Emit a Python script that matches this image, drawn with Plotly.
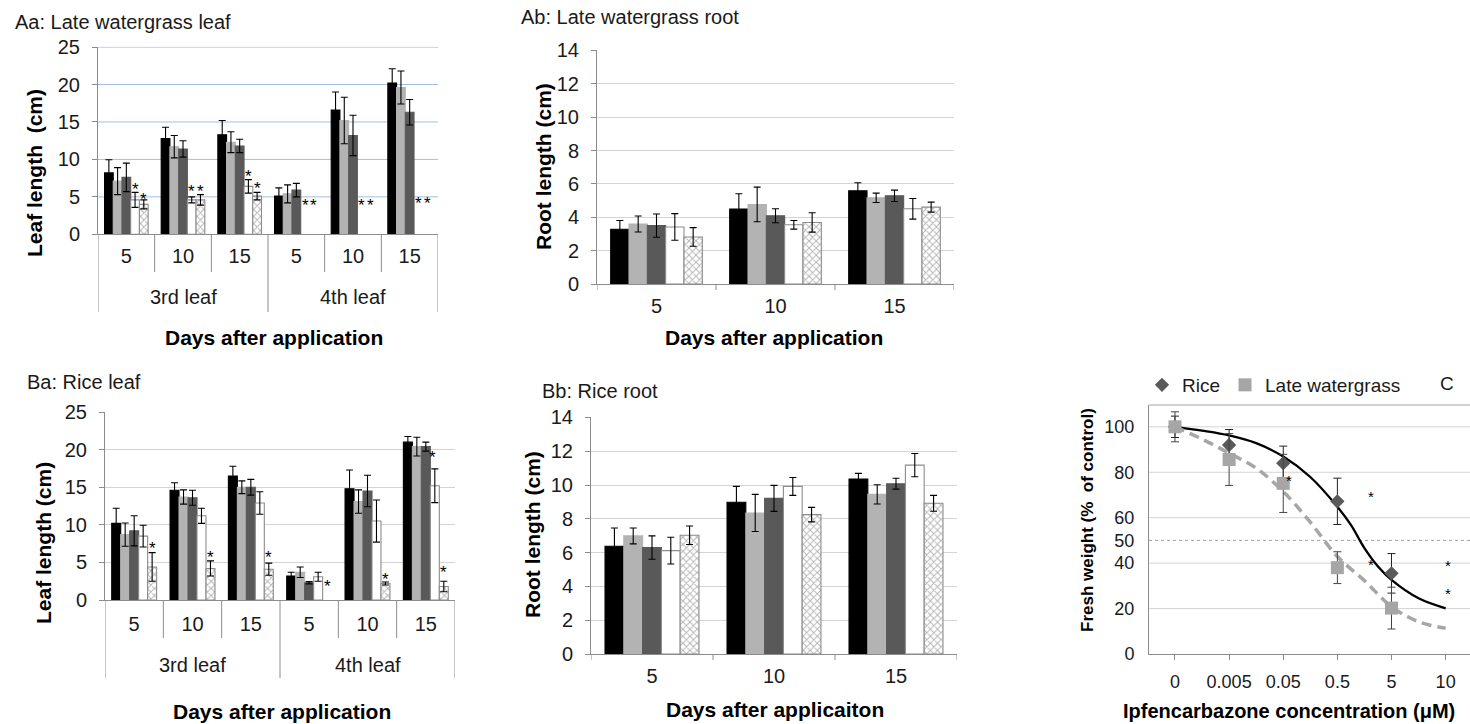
import plotly.graph_objects as go

W, H = 1470, 724
FONT = "Liberation Sans, Arial, sans-serif"
TXT = "#1a1a1a"
AXC = "#8c8c8c"

# ---------------- data ----------------
leaf_cats = ["5", "10", "15", "5", "10", "15"]
leaf_groups = ["3rd leaf", "4th leaf"]
root_cats = ["5", "10", "15"]
treatments = ["T1", "T2", "T3", "T4", "T5"]

# Aa: Late watergrass leaf (cm)
aa_means = [
    [8.2, 12.8, 13.3, 5.1, 16.6, 20.2],
    [7.1, 11.7, 12.3, 5.4, 15.2, 19.6],
    [7.6, 11.4, 11.8, 5.9, 13.2, 16.3],
    [4.6, 4.6, 6.4, None, None, None],
    [4.0, 4.6, 5.1, None, None, None],
]
aa_errs = [
    [1.75, 1.5, 1.9, 1.1, 2.4, 1.9],
    [1.8, 1.5, 1.4, 1.2, 3.1, 2.2],
    [1.9, 1.1, 0.9, 0.9, 2.7, 1.7],
    [1.0, 0.4, 0.9, None, None, None],
    [0.6, 0.7, 0.5, None, None, None],
]
# (category index, treatment index, y)
aa_stars = [(0, 3, 6.5), (0, 4, 5.2), (1, 3, 6.2), (1, 4, 6.2), (2, 3, 8.3), (2, 4, 6.7),
            (3, 3, 4.4), (3, 4, 4.4), (4, 3, 4.4), (4, 4, 4.4), (5, 3, 4.6), (5, 4, 4.6)]
leaf_ticks = [0, 5, 10, 15, 20, 25]

# Ab: Late watergrass root (cm)
ab_means = [
    [3.28, 4.49, 5.59],
    [3.60, 4.77, 5.17],
    [3.50, 4.09, 5.29],
    [3.42, 3.55, 4.51],
    [2.82, 3.69, 4.61],
]
ab_errs = [
    [0.53, 0.92, 0.48],
    [0.48, 1.04, 0.28],
    [0.70, 0.42, 0.34],
    [0.80, 0.26, 0.62],
    [0.56, 0.58, 0.30],
]

# Ba: Rice leaf (cm)
ba_means = [
    [10.2, 14.6, 16.5, 3.2, 14.8, 21.0],
    [8.7, 13.7, 15.0, 3.7, 13.1, 20.4],
    [9.2, 13.6, 15.0, 2.3, 14.5, 20.4],
    [8.5, 11.2, 12.9, 3.1, 10.5, 15.2],
    [4.4, 4.2, 4.1, None, 2.2, 1.8],
]
ba_errs = [
    [2.0, 1.0, 1.3, 0.5, 2.5, 0.75],
    [1.55, 0.95, 0.85, 0.7, 1.55, 1.25],
    [2.0, 1.0, 1.05, 0.15, 2.1, 0.6],
    [1.45, 1.0, 1.5, 0.6, 2.8, 2.25],
    [1.9, 1.0, 0.8, None, 0.2, 0.7],
]
ba_stars = [(0, 4, 7.4), (1, 4, 6.2), (2, 4, 6.2), (3, 4, 2.3), (4, 4, 3.3),
            (5, 2.7, 19.5), (5, 4, 4.2)]

# Bb: Rice root (cm)
bb_means = [
    [6.38, 8.98, 10.36],
    [6.99, 8.35, 9.45],
    [6.30, 9.21, 10.08],
    [6.12, 9.92, 11.18],
    [7.03, 8.25, 8.92],
]
bb_errs = [
    [1.08, 0.94, 0.33],
    [0.47, 1.10, 0.57],
    [0.69, 0.77, 0.32],
    [0.79, 0.53, 0.69],
    [0.55, 0.43, 0.47],
]

# C: dose response, fresh weight (% of control)
c_labels = ["0", "0.005", "0.05", "0.5", "5", "10"]
c_pos = [0, 1, 2, 3, 4]
c_yticks = [0, 20, 40, 50, 60, 80, 100]
c_grid = [20, 40, 60, 80, 100]
c_half = 50
rice_mean = [100, 92.0, 84.0, 67.2, 35.5]
rice_sd = [4.7, 6.8, 7.5, 10.2, 8.7]
wg_mean = [100, 85.6, 75.1, 38.0, 20.2]
wg_sd = [6.6, 11.4, 12.8, 7.0, 9.2]
rice_fit_x = [0, 0.5, 1.0, 1.5, 2.0, 2.5, 3.0, 3.25, 3.5, 3.75, 4.0, 4.5, 5.0]
rice_fit_y = [100, 98.3, 96.2, 92.8, 86.9, 77.9, 64.8, 56.8, 46.6, 38.5, 32.6, 24.5, 20.1]
wg_fit_x = [0, 0.5, 1.0, 1.5, 2.0, 2.5, 3.0, 3.5, 4.0, 4.5, 5.0]
wg_fit_y = [100, 94.6, 88.4, 81.8, 71.5, 58.0, 42.9, 32.3, 20.8, 14.2, 11.3]
c_stars = [(2.1, 77.5), (3.63, 70.8), (3.63, 40.6), (5.05, 40.4), (5.04, 28.1)]

# ---------------- styling ----------------
bar_fill = ["#000000", "#b3b3b3", "#595959", "#ffffff", "#ffffff"]
bar_edge = ["#000000", "#b3b3b3", "#595959", "#8c8c8c", "#8c8c8c"]
BARGAP = 0.23
BW = (1 - BARGAP) / 5


def px_x(x):
    return x / W


def px_y(y):
    return 1 - y / H


fig = go.Figure()


def add_bars(means, errs, xa, ya):
    n = len(means[0])
    for j in range(5):
        marker = dict(color=bar_fill[j], line=dict(color=bar_edge[j], width=1.1))
        if j == 4:
            marker["pattern"] = dict(shape="x", fgcolor="#6a6a6a", bgcolor="#ffffff",
                                     size=5, solidity=0.35)
        fig.add_trace(go.Bar(
            x=list(range(n)), y=means[j], name=treatments[j],
            error_y=dict(type="data", array=errs[j], symmetric=True, color="#000000",
                         thickness=1.1, width=3.5),
            marker=marker, xaxis=xa, yaxis=ya, showlegend=False))


def add_stars(stars, xa, ya, size=17):
    for (i, j, yv) in stars:
        fig.add_annotation(x=i + (j - 2) * BW, y=yv, xref=xa, yref=ya, text="*",
                           showarrow=False, yanchor="middle", yshift=-4,
                           font=dict(size=size, color="#000000", family=FONT))


def add_separators(xa, axis_px, inner_px, outer_px, n, long_at):
    for b in range(n + 1):
        bottom = outer_px if b in long_at else inner_px
        fig.add_shape(type="line", xref=xa, yref="paper", x0=b - 0.5, x1=b - 0.5,
                      y0=px_y(axis_px), y1=px_y(bottom), line=dict(color=AXC, width=1))


def add_hgrid(xa, ya, vals, color, dash="solid"):
    for v in vals:
        fig.add_shape(type="line", xref=f"{xa} domain", yref=ya, x0=0, x1=1, y0=v, y1=v,
                      layer="below", line=dict(color=color, width=1, dash=dash))


def text(x, y, s, size, bold=False, angle=0, xanchor="center"):
    fig.add_annotation(x=px_x(x), y=px_y(y), xref="paper", yref="paper",
                       text=f"<b>{s}</b>" if bold else s, showarrow=False,
                       textangle=angle, xanchor=xanchor, yanchor="middle",
                       font=dict(size=size, color=TXT if not bold else "#000000", family=FONT))


def xaxis_cfg(l, r, n, labels, standoff, anchor, size=20):
    return dict(domain=[px_x(l), px_x(r)], range=[-0.5, n - 0.5], tickmode="array",
                tickvals=list(range(n)), ticktext=labels, showline=True, linecolor=AXC,
                linewidth=1, ticks="", showgrid=False, zeroline=False, anchor=anchor,
                tickfont=dict(size=size, family=FONT, color=TXT), ticklabelstandoff=standoff,
                fixedrange=True)


def yaxis_cfg(top, bot, ymax, dtick, grid, anchor, size=20, showgrid=True):
    return dict(domain=[px_y(bot), px_y(top)], range=[0, ymax * 1.002], tickmode="linear",
                dtick=dtick, tick0=0, showgrid=showgrid, gridcolor=grid, gridwidth=1,
                showline=True, linecolor=AXC, linewidth=1, ticks="outside", ticklen=5,
                tickcolor=AXC, zeroline=False, tickfont=dict(size=size, family=FONT, color=TXT),
                ticklabelstandoff=8, anchor=anchor, fixedrange=True)


# ---------------- panels ----------------
add_hgrid("x", "y", leaf_ticks[1:], "#a3bfe2")
add_hgrid("x5", "y5", c_grid, "#d4d4d4")
add_hgrid("x5", "y5", [c_half], "#a0a0a0", dash="dot")

add_bars(aa_means, aa_errs, "x", "y")
add_bars(ab_means, ab_errs, "x2", "y2")
add_bars(ba_means, ba_errs, "x3", "y3")
add_bars(bb_means, bb_errs, "x4", "y4")

add_stars(aa_stars, "x", "y")
add_stars(ba_stars, "x3", "y3")

add_separators("x", 234.3, 272, 312, 6, (0, 3, 6))
add_separators("x3", 600, 638, 678, 6, (0, 3, 6))
add_separators("x2", 284, 290, 290, 3, ())
add_separators("x4", 654, 660, 660, 3, ())

# C curves and points
fig.add_trace(go.Scatter(x=rice_fit_x, y=rice_fit_y, mode="lines", line=dict(color="#000000", width=2.3, shape="spline"),
                         xaxis="x5", yaxis="y5", showlegend=False, hoverinfo="skip"))
fig.add_trace(go.Scatter(x=wg_fit_x, y=wg_fit_y, mode="lines",
                         line=dict(color="#a6a6a6", width=3.5, dash="10px,6px", shape="spline"),
                         xaxis="x5", yaxis="y5", showlegend=False, hoverinfo="skip"))
fig.add_trace(go.Scatter(x=c_pos, y=rice_mean, mode="markers", name="Rice",
                         marker=dict(symbol="diamond", size=11, color="#5a5a5a"),
                         error_y=dict(type="data", array=rice_sd, color="#222222", thickness=1, width=4),
                         xaxis="x5", yaxis="y5"))
fig.add_trace(go.Scatter(x=c_pos, y=wg_mean, mode="markers", name="Late watergrass",
                         marker=dict(symbol="square", size=13, color="#a6a6a6"),
                         error_y=dict(type="data", array=wg_sd, color="#444444", thickness=1, width=4),
                         xaxis="x5", yaxis="y5"))
for (xv, yv) in c_stars:
    fig.add_annotation(x=xv, y=yv, xref="x5", yref="y5", text="*", showarrow=False,
                       yanchor="middle", yshift=-3, font=dict(size=15, color="#000000", family=FONT))
fig.add_shape(type="line", xref="x5 domain", yref="y5 domain", x0=0, x1=1, y0=1, y1=1,
              line=dict(color="#a6a6a6", width=1.2))

# group labels
for gi, g in enumerate(leaf_groups):
    fig.add_annotation(x=1 + 3 * gi, y=px_y(297), xref="x", yref="paper", text=g, showarrow=False,
                       yanchor="middle", font=dict(size=20, family=FONT, color=TXT))
    fig.add_annotation(x=1 + 3 * gi, y=px_y(665), xref="x3", yref="paper", text=g, showarrow=False,
                       yanchor="middle", font=dict(size=20, family=FONT, color=TXT))

# titles
text(13, 22, "Aa: Late watergrass leaf", 20, xanchor="left")
text(519, 17, "Ab: Late watergrass root", 20, xanchor="left")
text(25, 382, "Ba: Rice leaf", 20, xanchor="left")
text(540, 391, "Bb: Rice root", 20, xanchor="left")
text(1447, 383, "C", 19)

# axis titles
text(274, 337, "Days after application", 21, bold=True)
text(774, 337, "Days after application", 21, bold=True)
text(282, 711, "Days after application", 21, bold=True)
text(775, 709, "Days after applicaiton", 21, bold=True)
text(1289, 711, "Ipfencarbazone concentration (μM)", 20, bold=True)
text(34, 173, "Leaf length  (cm)", 21, bold=True, angle=-90)
text(543, 167, "Root length (cm)", 21, bold=True, angle=-90)
text(43, 543, "Leaf length (cm)", 21, bold=True, angle=-90)
text(532, 535, "Root length (cm)", 21, bold=True, angle=-90)
text(1087, 520, "Fresh weight (%  of control)", 17, bold=True, angle=-90)

fig.update_layout(
    width=W, height=H, margin=dict(l=0, r=0, t=0, b=0, pad=0, autoexpand=False),
    paper_bgcolor="#ffffff", plot_bgcolor="#ffffff",
    barmode="group", bargap=BARGAP, bargroupgap=0,
    font=dict(family=FONT, color=TXT),
    showlegend=True,
    legend=dict(orientation="h", x=px_x(1142), xanchor="left", y=px_y(385), yanchor="middle",
                font=dict(size=19, family=FONT, color=TXT), bgcolor="rgba(0,0,0,0)",
                itemwidth=30, tracegroupgap=0),
    xaxis=xaxis_cfg(98, 438, 6, leaf_cats, 4, "y"),
    yaxis=yaxis_cfg(46.7, 234.3, 25, 5, "#a3bfe2", "x", showgrid=False),
    xaxis2=xaxis_cfg(597, 954, 3, root_cats, 4, "y2"),
    yaxis2=yaxis_cfg(50, 284, 14, 2, "#d4d4d4", "x2"),
    xaxis3=xaxis_cfg(105, 455, 6, leaf_cats, 6, "y3"),
    yaxis3=yaxis_cfg(411.7, 600, 25, 5, "#d4d4d4", "x3"),
    xaxis4=xaxis_cfg(591, 957, 3, root_cats, 4, "y4"),
    yaxis4=yaxis_cfg(417, 654, 14, 2, "#d4d4d4", "x4"),
    xaxis5=dict(domain=[px_x(1149), 1.0], range=[-0.48, 5.45], tickmode="array",
                tickvals=list(range(6)), ticktext=c_labels, showline=True, linecolor=AXC,
                ticks="outside", ticklen=5, tickcolor=AXC, showgrid=False, zeroline=False,
                tickfont=dict(size=18, family=FONT, color=TXT), ticklabelstandoff=6,
                anchor="y5", fixedrange=True),
    yaxis5=dict(domain=[px_y(654), px_y(405)], range=[0, 109.6], tickmode="array",
                tickvals=c_yticks, showgrid=False,
                showline=True, linecolor=AXC, ticks="", zeroline=False,
                tickfont=dict(size=18, family=FONT, color=TXT), ticklabelstandoff=10,
                anchor="x5", fixedrange=True),
)

fig.write_html("out.html")
